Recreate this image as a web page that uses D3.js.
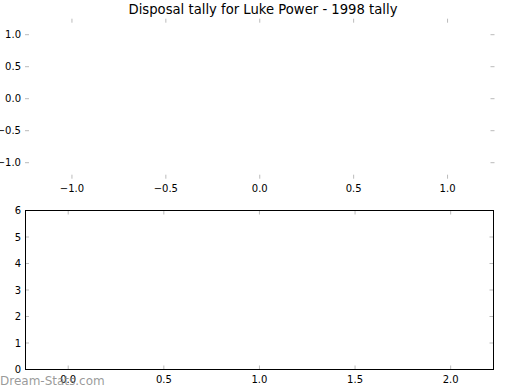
<!DOCTYPE html>
<html><head><meta charset="utf-8">
<script src="https://cdn.jsdelivr.net/npm/d3@7"></script>
<style>body{margin:0;background:#fff}svg{display:block}text{font-family:"DejaVu Sans",sans-serif}</style>
</head><body><svg id="c" width="520" height="390"></svg>
<script>
const title = "Disposal tally for Luke Power - 1998 tally";
const pieLabels = [];
const pieValues = [];
const barCategories = [];
const barValues = [];
const pieTicks = [-1.0, -0.5, 0.0, 0.5, 1.0];
const barXTicks = [0.0, 0.5, 1.0, 1.5, 2.0];
const barYTicks = [0, 1, 2, 3, 4, 5, 6];

const svg = d3.select("#c");
const tickColor = "#bbbbbb", fs = 10, tl = 4;

svg.append("text").attr("x", 263).attr("y", 14).attr("text-anchor", "middle")
  .attr("font-size", 13.2).attr("fill", "#000").text(title);

// ---- top (pie) axes, frameless
const px = d3.scaleLinear().domain([-1.25, 1.25]).range([25, 494.5]);
const py = d3.scaleLinear().domain([-1.25, 1.25]).range([178.7, 18.7]);
const gTop = svg.append("g");
const pie = d3.pie().sort(null)(pieValues);
const arc = d3.arc().innerRadius(0).outerRadius(px(1) - px(0));
gTop.selectAll("path.slice").data(pie).join("path").attr("class", "slice")
  .attr("transform", `translate(${px(0)},${py(0)})`).attr("d", arc);

function drawTicks(g, xs, ys, xTicks, yTicks, box, fmtX, fmtY) {
  xTicks.forEach(t => {
    const x = xs(t);
    g.append("line").attr("x1", x).attr("x2", x).attr("y1", box.b).attr("y2", box.b - tl).attr("stroke", tickColor);
    g.append("line").attr("x1", x).attr("x2", x).attr("y1", box.t).attr("y2", box.t + tl).attr("stroke", tickColor);
    g.append("text").attr("x", x).attr("y", box.b + 4 + fs * 0.95).attr("text-anchor", "middle")
      .attr("font-size", fs).text(fmtX(t));
  });
  yTicks.forEach(t => {
    const y = ys(t);
    g.append("line").attr("y1", y).attr("y2", y).attr("x1", box.l).attr("x2", box.l + tl).attr("stroke", tickColor);
    g.append("line").attr("y1", y).attr("y2", y).attr("x1", box.r).attr("x2", box.r - tl).attr("stroke", tickColor);
    g.append("text").attr("x", box.l - 4).attr("y", y).attr("dy", "0.36em").attr("text-anchor", "end")
      .attr("font-size", fs).text(fmtY(t));
  });
}
const f1 = t => d3.format(".1f")(t).replace("-", "\u2212");
drawTicks(gTop, px, py, pieTicks, pieTicks, {l: 25, r: 494.5, t: 18.7, b: 178.7}, f1, f1);

// ---- bottom (bar) axes
const bx = d3.scaleLinear().domain([-0.226, 2.224]).range([25, 493.5]);
const by = d3.scaleLinear().domain([0, 6]).range([369.5, 210.5]);
const gBot = svg.append("g");
gBot.selectAll("rect.bar").data(barValues).join("rect").attr("class", "bar")
  .attr("x", (d, i) => bx(i - 0.4)).attr("width", bx(0.8) - bx(0))
  .attr("y", d => by(d)).attr("height", d => by(0) - by(d)).attr("fill", "#4c72b0");
drawTicks(gBot, bx, by, barXTicks, barYTicks, {l: 25, r: 493.5, t: 210.5, b: 369.5}, f1, t => String(t));
gBot.append("rect").attr("x", 25.5).attr("y", 210.5).attr("width", 468).attr("height", 159)
  .attr("fill", "none").attr("stroke", "#000").attr("stroke-width", 1);

// watermark
svg.append("text").attr("x", 0).attr("y", 385).attr("font-size", 12)
  .attr("fill", "#888").attr("fill-opacity", 0.85).text("Dream-Stats.com");
</script></body></html>
